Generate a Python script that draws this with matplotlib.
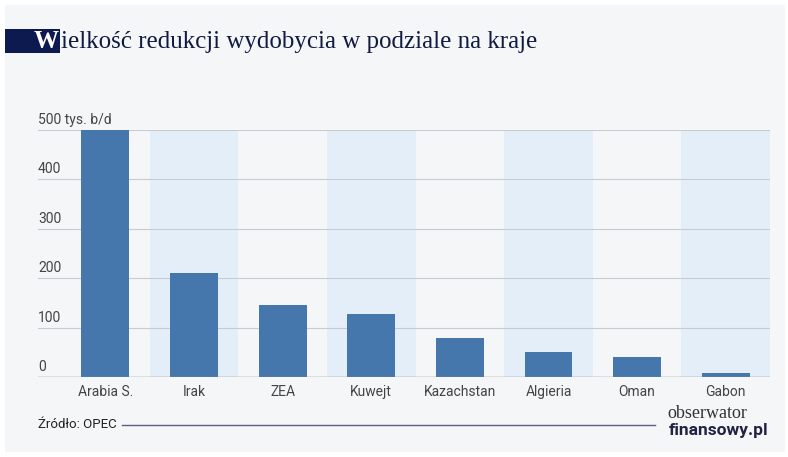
import numpy as np
import matplotlib.pyplot as plt
from matplotlib.patches import Rectangle

# data
countries = ["Arabia S.", "Irak", "ZEA", "Kuwejt", "Kazachstan", "Algieria", "Oman", "Gabon"]
cuts = [500, 210, 146, 128, 79, 51, 40, 8]
yticks = [0, 100, 200, 300, 400, 500]
ytick_labels = ["0", "100", "200", "300", "400", "500 tys. b/d"]

bg = "#f4f6f8"
bar_col = "#4577ad"
band_col = "#e3eef8"

fig = plt.figure(figsize=(7.88, 4.57), dpi=100)
fig.patch.set_facecolor("white")
fig.patches.append(Rectangle((5/788, 1-452/457), 780/788, 447/457, transform=fig.transFigure,
                             facecolor=bg, edgecolor="none", zorder=-10))

ax = fig.add_axes([38/788, 1-377/457, (770-38)/788, (377-130)/457])
ax.set_facecolor("none")
x = np.arange(len(countries))
for i in x:
    if i % 2 == 1:
        ax.axvspan(i - 0.5, i + 0.5, color=band_col, zorder=0, lw=0)
ax.bar(x, cuts, width=0.54, color=bar_col, zorder=3)
ax.set_xlim(-0.76, 7.5)
ax.set_ylim(0, 500)
ax.set_yticks(yticks)
ax.set_yticklabels([])
for v, lab in zip(yticks, ytick_labels):
    ax.text(0.0, v + 6, lab, transform=ax.get_yaxis_transform(), ha="left", va="bottom",
            fontsize=10, color="#444444", family="Roboto")
    ax.axhline(v, color="#c8ccd2", lw=0.8, zorder=1)
ax.axhline(0, color="#888888", lw=1.0, zorder=4)
ax.tick_params(axis="y", length=0)
ax.set_xticks(x)
ax.set_xticklabels(countries, fontsize=10, color="#444444", family="Roboto")
ax.tick_params(axis="x", length=0, pad=6)
for s in ax.spines.values():
    s.set_visible(False)

# title
fig.patches.append(Rectangle((5/788, 1-53/457), 55/788, 24/457, transform=fig.transFigure,
                             facecolor="#0d1a4f", edgecolor="none"))
fig.text(59/788, 1-42/457, "W", color="white", fontsize=18, family="Liberation Serif",
         fontweight="bold", va="center", ha="right")
fig.text(61/788, 1-42/457, "ielkość redukcji wydobycia w podziale na kraje", color="#111a3f",
         fontsize=18, family="Liberation Serif", va="center")

# footer
fig.text(38/788, 1-425/457, "Źródło: OPEC", fontsize=9.5, color="#222222", family="Roboto", va="center")
fig.add_artist(plt.Line2D([122/788, 655/788], [1-425/457, 1-425/457], color="#5a5f80", lw=1))
fig.text(667/788, 1-414/457, "obserwator", fontsize=13, color="#333333", family="Liberation Serif", va="center")
fig.text(669/788, 1-431/457, "finansowy.pl", fontsize=12.5, color="#222244", family="Roboto",
         fontweight="bold", va="center")

fig.savefig("out.png", dpi=100, facecolor=fig.get_facecolor())
